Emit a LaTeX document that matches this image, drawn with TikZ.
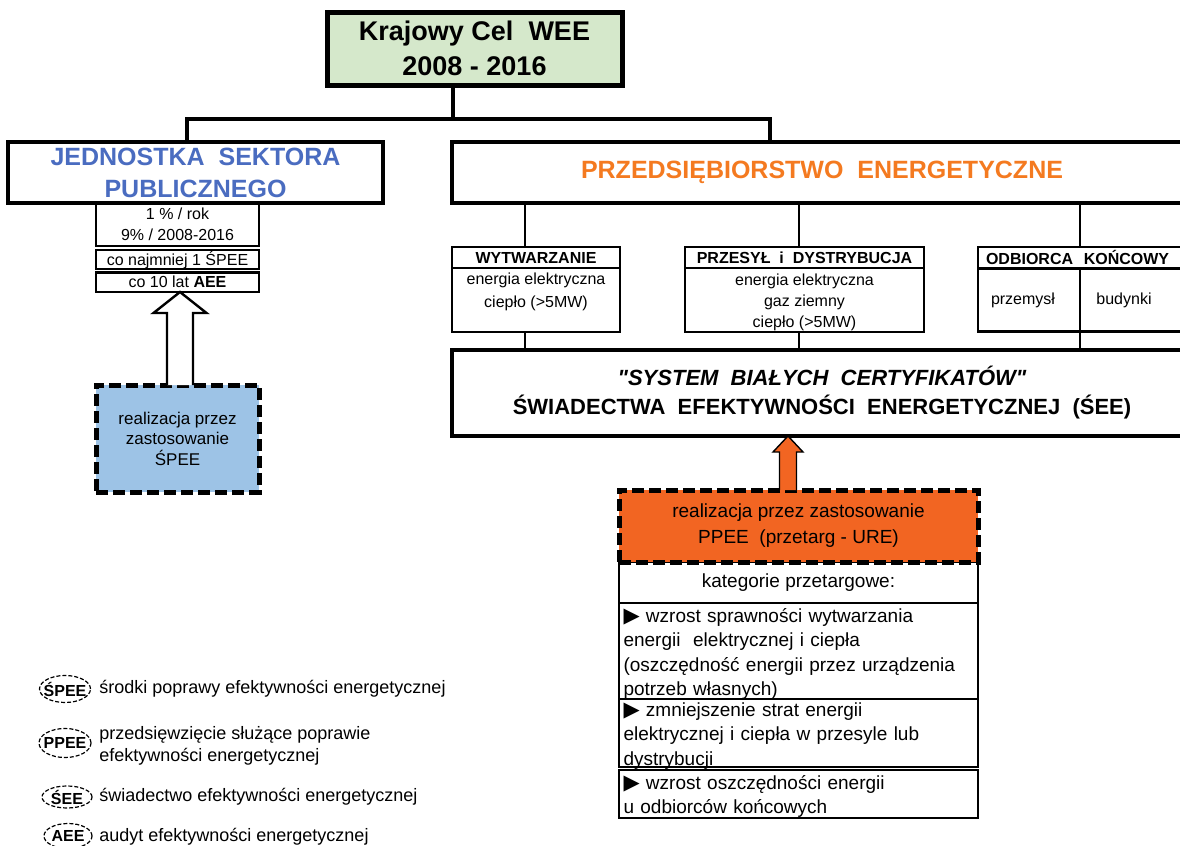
\documentclass[tikz,border=0pt]{standalone}
\usepackage{fontspec}
\setmainfont{Liberation Sans}
\newfontfamily\dejavu{DejaVu Sans}
\newfontfamily\qfont{Liberation Sans}
\usetikzlibrary{shapes.geometric,calc}
\definecolor{topgreen}{HTML}{D5E8CB}
\definecolor{boxblue}{HTML}{9DC3E6}
\definecolor{boxorange}{HTML}{F26522}
\definecolor{jspblue}{HTML}{4A6CC0}
\definecolor{peorange}{HTML}{F47A20}
\newcommand{\fsz}[2]{\fontsize{#1pt}{#2pt}\selectfont}
\newcommand{\tri}{\smash{\dejavu\fontsize{10.5}{10.5}\selectfont ▶}}
\newcommand{\sq}{{\qfont\bfseries\itshape "}}
\begin{document}
\begin{tikzpicture}[x=0.5pt,y=-0.5pt,
 bx/.style={draw, rectangle, inner sep=0pt, outer sep=0pt, align=center},
 heavy/.style={bx, line width=2.2pt},
 medium/.style={bx, line width=1.4pt},
 light/.style={bx, line width=1.1pt},
 dashbox/.style={bx, line width=2.5pt, dash pattern=on 6pt off 2.5pt},
 trunk/.style={line width=2pt},
 twig/.style={line width=1pt},
 plain/.style={inner sep=0pt, align=center},
 legell/.style={ellipse, draw, dash pattern=on 2pt off 1pt, line width=0.6pt, inner xsep=-4pt, inner ysep=0pt, font=\fsz{8}{9}\bfseries},
 legtxt/.style={anchor=west, inner sep=0pt, align=left, font=\fsz{9}{11}},
 kbox/.style={light, minimum width=179.5pt},
 ktxt/.style={inner sep=0pt, text width=175pt, align=left, font=\fsz{9.5}{12.15}},
]
\useasboundingbox (0,0) rectangle (1180,846);
\clip (0,0) rectangle (1180,846);

% top
\node[heavy, fill=topgreen, line width=2.5pt, minimum width=147.5pt, minimum height=36.5pt, font=\fsz{13.5}{17.5}\bfseries] (top) at (474.5,48.5) {Krajowy Cel\ \ WEE\\2008 - 2016};

% second level
\node[heavy, minimum width=187.5pt, minimum height=30.5pt, text=jspblue, font=\fsz{12.5}{16}\bfseries] (jsp) at (195.5,172.5) {JEDNOSTKA\ \ SEKTORA\\PUBLICZNEGO};
\node[heavy, minimum width=370pt, minimum height=30.5pt, text=peorange, font=\fsz{12.5}{16}\bfseries] (pe) at (822,172.5) {PRZEDSIĘBIORSTWO\ \ ENERGETYCZNE};

\coordinate (hub) at (453,119);
\coordinate (jx) at (187,119);
\coordinate (px) at (770,119);
\draw[trunk] (top.south -| hub) -- (hub);
\draw[trunk] (jsp.north -| jx) -- (jx) -- (px) -- (pe.north -| px);

% left column
\node[medium, minimum width=81.5pt, minimum height=21.5pt, font=\fsz{8}{10.5}] (s1) at (177.5,224.5) {1 \% / rok\\9\% / 2008-2016};
\node[medium, minimum width=81.5pt, minimum height=9.5pt, font=\fsz{8}{10}] (s2) at (177.5,259.5) {co najmniej 1 ŚPEE};
\node[medium, minimum width=81.5pt, minimum height=9.75pt, font=\fsz{8}{10}] (s3) at (177.5,282.25) {co 10 lat \textbf{AEE}};

\node[dashbox, fill=boxblue, minimum width=81.5pt, minimum height=53.5pt, font=\fsz{8.5}{10.25}] (blue) at (177.5,438.5) {realizacja przez\\zastosowanie\\ŚPEE};

\draw[line width=1.2pt, fill=white] let \p1=(blue.north), \p2=(s3.south) in
 (\x1-5.25pt,\y1) -- (\x1-5.25pt,\y2-10.5pt) -- (\x1-12pt,\y2-10.5pt) -- (\x1+1.25pt,\y2) -- (\x1+14.5pt,\y2-10.5pt) -- (\x1+7.75pt,\y2-10.5pt) -- (\x1+7.75pt,\y1);

% right column: three branches
\coordinate (wx) at (525,0);
\coordinate (rx) at (799,0);
\coordinate (ox) at (1080,0);

\node[medium, minimum width=84pt, minimum height=10.5pt, font=\fsz{8}{10}\bfseries] (wh) at (536,257.5) {WYTWARZANIE};
\node[medium, minimum width=84pt, minimum height=32pt] (wb) at (536,300) {};
\node[plain, font=\fsz{8}{11.5}] (wbt) at (536,292) {energia elektryczna\\ciepło (>5MW)};

\node[medium, minimum width=119.5pt, minimum height=10.5pt, font=\fsz{8}{10}\bfseries] (rh) at (804.5,257.5) {PRZESYŁ\ \ i\ \ DYSTRYBUCJA};
\node[medium, minimum width=119.5pt, minimum height=32pt] (rb) at (804.5,300) {};
\node[plain, font=\fsz{8}{10.5}] (rbt) at (804.5,302) {energia elektryczna\\gaz ziemny\\ciepło (>5MW)};

\node[medium, minimum width=111pt, minimum height=10.5pt, text width=103pt, align=left, font=\fsz{8}{10}\bfseries] (oh) at (1089,257.5) {ODBIORCA\ \ KOŃCOWY};
\node[medium, minimum width=111pt, minimum height=31.5pt] (ob) at (1089,299.75) {};
\node[plain, font=\fsz{8}{10}] (obl) at (1023,300) {przemysł};
\node[plain, font=\fsz{8}{10}] (obr) at (1124,300) {budynki};

\node[heavy, minimum width=370pt, minimum height=43pt, font=\fsz{11}{14.5}\bfseries] (sbc) at (822,393) {{\itshape \sq SYSTEM\ \ BIAŁYCH\ \ CERTYFIKATÓW\sq}\\ŚWIADECTWA\ \ EFEKTYWNOŚCI\ \ ENERGETYCZNEJ\ \ (ŚEE)};

\draw[twig] (pe.south -| wx) -- (wh.north -| wx);
\draw[twig] (pe.south -| rx) -- (rh.north -| rx);
\draw[twig] (pe.south -| ox) -- (oh.north -| ox);
\draw[twig] (wb.south -| wx) -- (sbc.north -| wx);
\draw[twig] (rb.south -| rx) -- (sbc.north -| rx);
\draw[twig] (oh.south -| ox) -- (sbc.north -| ox);

% bottom right
\node[kbox, minimum height=20.5pt, font=\fsz{9.5}{12}] (k1) at (798.5,582.5) {kategorie przetargowe:};
\node[kbox, minimum height=48pt] (k2) at (798.5,651) {};
\node[kbox, minimum height=34pt] (k3) at (798.5,733) {};
\node[kbox, minimum height=24pt] (k4) at (798.5,794) {};
\node[ktxt] (k2t) at (798.5,654) {\tri\ wzrost sprawności wytwarzania\\energii\ \ elektrycznej i ciepła\\(oszczędność energii przez urządzenia\\potrzeb własnych)};
\node[ktxt] (k3t) at (798.5,736) {\tri\ zmniejszenie strat energii\\elektrycznej i ciepła w przesyle lub\\dystrybucji};
\node[ktxt] (k4t) at (798.5,796.5) {\tri\ wzrost oszczędności energii\\u odbiorców końcowych};

\node[dashbox, fill=boxorange, minimum width=179.5pt, minimum height=36pt, font=\fsz{9.5}{13}] (ppee) at (798.5,526) {realizacja przez zastosowanie\\PPEE\ \ (przetarg - URE)};

\draw[line width=0.7pt, fill=boxorange] let \p1=(ppee.north), \p2=(sbc.south) in
 (\x1-9.5pt,\y1) -- (\x1-9.5pt,\y2-8pt) -- (\x1-12.75pt,\y2-8pt) -- (\x1-5.25pt,\y2) -- (\x1+2.25pt,\y2-8pt) -- (\x1-1pt,\y2-8pt) -- (\x1-1pt,\y1);

% legend
\node[legell, minimum width=25.5pt, minimum height=13.5pt] (e1) at (65,689) {ŚPEE};
\node[legell, minimum width=26pt, minimum height=14.5pt] (e2) at (65,743) {PPEE};
\node[legell, minimum width=25pt, minimum height=11pt] (e3) at (67,797) {ŚEE};
\node[legell, minimum width=24pt, minimum height=12.5pt] (e4) at (68,836) {AEE};
\node[legtxt] (t1) at (99,689) {środki poprawy efektywności energetycznej};
\node[legtxt] (t2) at (99,746) {przedsięwzięcie służące poprawie\\efektywności energetycznej};
\node[legtxt] (t3) at (99,797) {świadectwo efektywności energetycznej};
\node[legtxt] (t4) at (99,837) {audyt efektywności energetycznej};
\end{tikzpicture}
\end{document}
